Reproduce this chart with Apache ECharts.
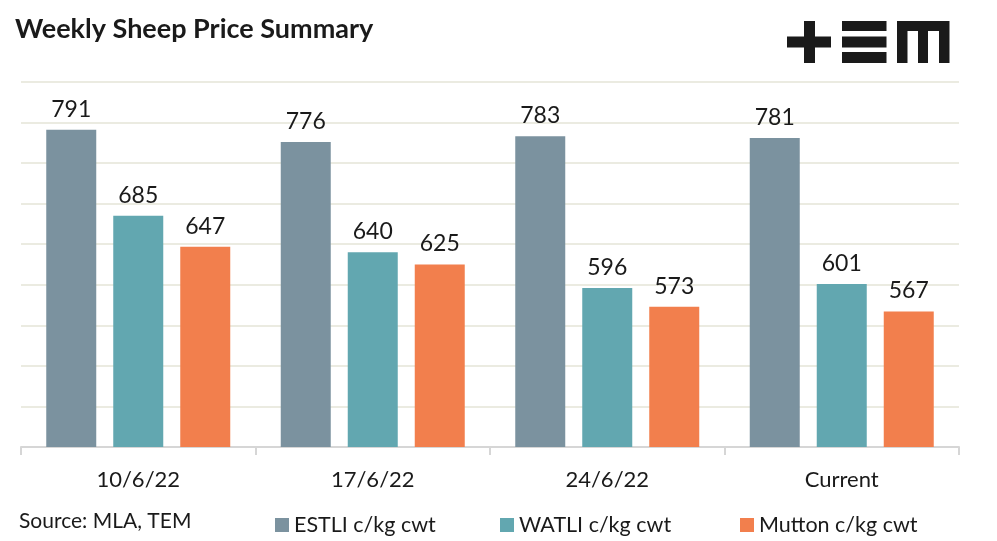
<!DOCTYPE html>
<html>
<head>
<meta charset="utf-8">
<script src="https://cdn.jsdelivr.net/npm/echarts@6/dist/echarts.min.js"></script>
<style>
html,body{margin:0;padding:0;background:#fff;}
#chart{width:997px;height:541px;}
</style>
</head>
<body>
<div id="chart"></div>
<script>
const categories = ['10/6/22', '17/6/22', '24/6/22', 'Current'];
const seriesNames = ['ESTLI c/kg cwt', 'WATLI c/kg cwt', 'Mutton c/kg cwt'];
const estli = [791, 776, 783, 781];
const watli = [685, 640, 596, 601];
const mutton = [647, 625, 573, 567];
const colors = ['#7b929f', '#62a7b0', '#f27f4d'];

const FONT = 'Lato, "Liberation Sans", sans-serif';
const chart = echarts.init(document.getElementById('chart'), null, {renderer: 'canvas'});

function mkSeries(name, data, color) {
  return {
    name: name,
    type: 'bar',
    data: data,
    barWidth: 50,
    barGap: '34%',
    itemStyle: {color: color},
    label: {
      show: true, position: 'top', distance: 9,
      fontFamily: FONT, fontSize: 23, color: '#1a1a1a'
    },
    emphasis: {disabled: true}
  };
}

const legendLefts = [270, 495, 735];
function mkLegend(name, left) {
  return {
    data: [name],
    left: left, top: 509,
    itemWidth: 14, itemHeight: 14, itemGap: 6,
    icon: 'rect',
    textStyle: {fontFamily: FONT, fontSize: 21.5, color: '#1a1a1a'}
  };
}

const option = {
  animation: false,
  textStyle: {fontFamily: FONT},
  title: {
    text: 'Weekly Sheep Price Summary',
    left: 10, top: 11,
    textStyle: {fontFamily: FONT, fontSize: 27, fontWeight: 'bold', color: '#1a1a1a'}
  },
  legend: seriesNames.map((n, i) => mkLegend(n, legendLefts[i])),
  grid: {left: 21, right: 38, top: 82, bottom: 94, containLabel: false},
  xAxis: {
    type: 'category',
    data: categories,
    axisLine: {show: true, lineStyle: {color: '#d6d6d6', width: 2}},
    axisTick: {show: true, length: 8, lineStyle: {color: '#d6d6d6', width: 2}},
    axisLabel: {fontFamily: FONT, fontSize: 22, color: '#1a1a1a', margin: 22}
  },
  yAxis: {
    type: 'value',
    min: 400, max: 850, interval: 50,
    axisLabel: {show: false},
    axisLine: {show: false},
    axisTick: {show: false},
    splitLine: {lineStyle: {color: '#ebebe1', width: 2}}
  },
  series: [
    mkSeries(seriesNames[0], estli, colors[0]),
    mkSeries(seriesNames[1], watli, colors[1]),
    mkSeries(seriesNames[2], mutton, colors[2])
  ],
  graphic: [
    {type: 'text', left: 19, top: 511,
     style: {text: 'Source: MLA, TEM', font: '21px ' + FONT, fill: '#1a1a1a'}},
    // logo "+EM"
    {type: 'group', left: 787, top: 21, children: [
      {type: 'rect', shape: {x: 0, y: 15.5, width: 44, height: 11}, style: {fill: '#1a1a1a'}},
      {type: 'rect', shape: {x: 17, y: 0, width: 11, height: 42}, style: {fill: '#1a1a1a'}},
      {type: 'rect', shape: {x: 55, y: 0, width: 44.5, height: 10}, style: {fill: '#1a1a1a'}},
      {type: 'rect', shape: {x: 55, y: 15.5, width: 44.5, height: 11}, style: {fill: '#1a1a1a'}},
      {type: 'rect', shape: {x: 55, y: 31, width: 44.5, height: 11}, style: {fill: '#1a1a1a'}},
      {type: 'rect', shape: {x: 110, y: 0, width: 52, height: 10}, style: {fill: '#1a1a1a'}},
      {type: 'rect', shape: {x: 110, y: 0, width: 10.5, height: 42}, style: {fill: '#1a1a1a'}},
      {type: 'rect', shape: {x: 131, y: 0, width: 10, height: 42}, style: {fill: '#1a1a1a'}},
      {type: 'rect', shape: {x: 152, y: 0, width: 10.5, height: 42}, style: {fill: '#1a1a1a'}}
    ]}
  ]
};
chart.setOption(option);
</script>
</body>
</html>
